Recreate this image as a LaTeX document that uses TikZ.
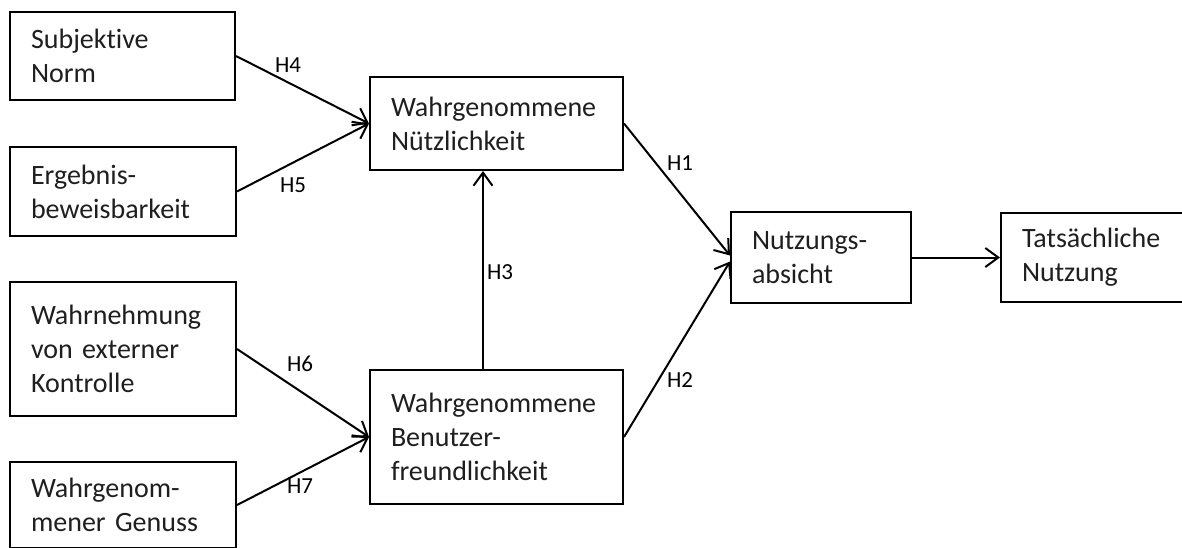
\documentclass[tikz,border=0pt]{standalone}
\usepackage{fontspec}
\setmainfont[Ligatures=NoCommon]{Carlito}
\usetikzlibrary{arrows.meta}
\tikzset{
  box/.style={draw=black, line width=2pt, rectangle, align=left, inner xsep=21pt, inner ysep=0pt,
    font=\fontsize{28}{34}\selectfont, text=black!88},
  lbl/.style={font=\fontsize{23}{26}\selectfont, text=black, inner sep=0pt},
  conn/.style={line width=2pt, -{Straight Barb[length=13pt,width=19pt,line width=2pt]}}
}
\begin{document}
\begin{tikzpicture}[x=1pt,y=-1pt]
\useasboundingbox (0,0) rectangle (1182,547);
\clip (0,0) rectangle (1182,547);
\fill[white] (0,0) rectangle (1182,547);
% boxes
\node[box, minimum width=225pt, minimum height=88pt, text width=183pt] (sn) at (122.5,56) {Subjektive\\Norm};
\node[box, minimum width=226pt, minimum height=89pt, text width=184pt] (eb) at (123,191.5) {Ergebnis-\\beweisbarkeit};
\node[box, minimum width=226pt, minimum height=134pt, text width=184pt] (wk) at (123,349) {Wahrnehmung\\von externer\\Kontrolle};
\node[box, minimum width=226pt, minimum height=86pt, text width=184pt] (wg) at (123,505) {Wahrgenom-\\mener Genuss};
\node[box, minimum width=253pt, minimum height=93pt, text width=211pt] (wn) at (496.5,123.5) {Wahrgenommene\\Nützlichkeit};
\node[box, minimum width=253pt, minimum height=134pt, text width=211pt] (wb) at (496.5,437) {Wahrgenommene\\Benutzer-\\freundlichkeit};
\node[box, minimum width=180pt, minimum height=91pt, text width=138pt] (na) at (821,257.5) {Nutzungs-\\absicht};
\node[box, minimum width=186pt, minimum height=89pt, text width=144pt] (tn) at (1094,257.5) {Tatsächliche\\Nutzung};
% connectors
\draw[conn] (sn.east) -- (wn.west);
\draw[conn] (eb.east) -- (wn.west);
\draw[conn] (wk.east) -- (wb.west);
\draw[conn] (wg.east) -- (wb.west);
\draw[conn] ([xshift=-13.5pt]wb.north) -- ([xshift=-13.5pt]wn.south);
\draw[conn] (wn.east) -- ([yshift=2pt]na.west);
\draw[conn] (wb.east) -- ([yshift=-4pt]na.west);
\draw[conn] (na.east) -- (tn.west);
% labels
\node[lbl] (h4) at (288,65) {H4};
\node[lbl] (h5) at (293,185) {H5};
\node[lbl] (h6) at (300,364) {H6};
\node[lbl] (h7) at (300,486) {H7};
\node[lbl] (h3) at (500,272) {H3};
\node[lbl] (h1) at (680,163) {H1};
\node[lbl] (h2) at (680,380) {H2};
\end{tikzpicture}
\end{document}
